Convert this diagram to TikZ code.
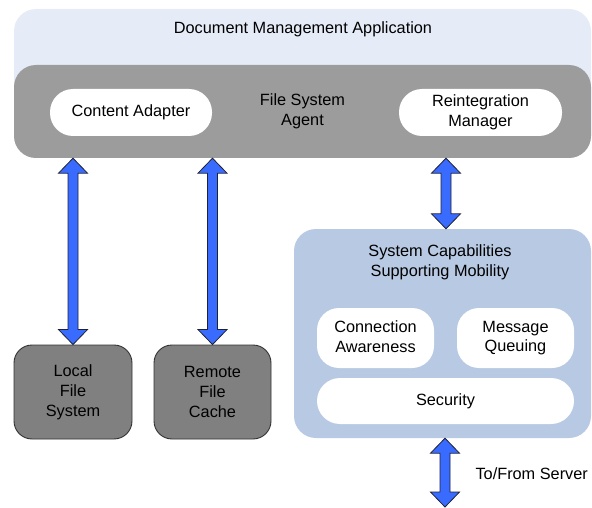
\documentclass[tikz,border=0pt]{standalone}
\usepackage{fontspec}
\setmainfont{Liberation Sans}
\usetikzlibrary{calc}
\definecolor{appbg}{HTML}{E6ECF7}
\definecolor{agentgray}{HTML}{9C9C9C}
\definecolor{storegray}{HTML}{808080}
\definecolor{capsblue}{HTML}{B8C9E3}
\definecolor{arrowblue}{HTML}{3A6BFF}
\definecolor{arrowline}{HTML}{1F2233}
\tikzset{
  txt/.style={font=\fontsize{16.3}{19.8}\selectfont, align=center},
  panel/.style={inner sep=0pt, rounded corners=22pt},
  pill/.style={txt, fill=white, inner sep=0pt, rounded corners=23pt},
  storebox/.style={txt, fill=storegray, draw=black!80, line width=0.9pt, inner sep=0pt, rounded corners=18pt},
  biarrow/.style={fill=arrowblue, draw=arrowline, line width=0.8pt, line join=miter},
}
\newcommand{\vbiarrow}[2]{%
  \draw[biarrow] let \p1=(#1), \p2=(#2) in
  (\x1,\y1) -- ({\x1+14.5pt},{\y1-15pt}) -- ({\x1+5pt},{\y1-15pt})
  -- ({\x1+5pt},{\y2+15pt}) -- ({\x1+14.5pt},{\y2+15pt}) -- (\x1,\y2)
  -- ({\x1-14.5pt},{\y2+15pt}) -- ({\x1-5pt},{\y2+15pt})
  -- ({\x1-5pt},{\y1-15pt}) -- ({\x1-14.5pt},{\y1-15pt}) -- cycle;}
\begin{document}
\begin{tikzpicture}[x=1pt,y=-1pt]
\useasboundingbox (0,0) rectangle (592,508);
% application
\node[panel, fill=appbg, minimum width=577pt, minimum height=149pt] (dma) at (302.5,83.5) {};
\node[txt] (dmat) at (303,29) {Document Management Application};
% file system agent
\node[panel, txt, fill=agentgray, minimum width=577pt, minimum height=93pt] (fsa) at (302.5,111.5) {File System\\Agent};
\node[pill, minimum width=162pt, minimum height=47pt] (ca) at (131,112.5) {Content Adapter};
\node[pill, minimum width=163pt, minimum height=47pt] (rm) at (480.5,112.5) {Reintegration\\Manager};
% stores
\node[storebox, minimum width=118pt, minimum height=94pt] (lfs) at (73,392) {Local\\File\\System};
\node[storebox, minimum width=117pt, minimum height=94pt] (rfc) at (212.5,392) {Remote\\File\\Cache};
% capabilities
\node[panel, fill=capsblue, minimum width=297pt, minimum height=209pt] (caps) at (442.5,333.5) {};
\node[txt] (capst) at (440,262) {System Capabilities\\Supporting Mobility};
\node[pill, rounded corners=22pt, minimum width=117pt, minimum height=60pt] (conn) at (375.5,338) {Connection\\Awareness\vphantom{g}};
\node[pill, rounded corners=22pt, minimum width=117pt, minimum height=60pt] (mq) at (515.5,338) {Message\\Queuing};
\node[pill, minimum width=257pt, minimum height=46pt] (sec) at (445.5,401) {Security};
% connectors
\coordinate (a3) at (446,0);
\coordinate (a4) at (445,0);
\coordinate (srv) at (445,507);
\vbiarrow{lfs.north |- fsa.south}{lfs.north}
\vbiarrow{rfc.north |- fsa.south}{rfc.north}
\vbiarrow{a3 |- fsa.south}{a3 |- caps.north}
\vbiarrow{a4 |- caps.south}{srv}
\node[txt, anchor=west] (srvt) at (472,474) {To/From Server};
\end{tikzpicture}
\end{document}
